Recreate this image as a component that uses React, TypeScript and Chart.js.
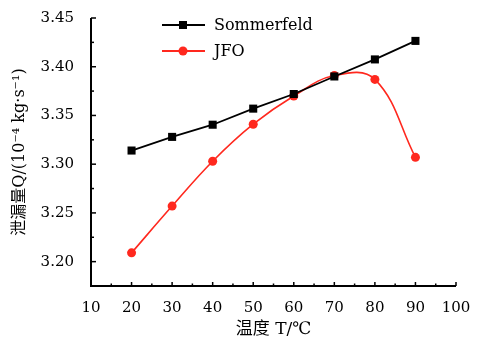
import React, { useEffect, useRef } from "react";
import { Chart, registerables } from "chart.js";

Chart.register(...registerables);

const temperatures = [20, 30, 40, 50, 60, 70, 80, 90];
const sommerfeld = [3.314, 3.328, 3.3405, 3.357, 3.372, 3.39, 3.4075, 3.4265];
const jfo = [3.209, 3.257, 3.303, 3.341, 3.37, 3.391, 3.387, 3.307];
const xTicks = [10, 20, 30, 40, 50, 60, 70, 80, 90, 100];
const yTicks = [3.2, 3.25, 3.3, 3.35, 3.4, 3.45];
const xMinor = [15, 25, 35, 45, 55, 65, 75, 85, 95];
const yMinor = [3.175, 3.225, 3.275, 3.325, 3.375, 3.425];

const SERIF = "'DejaVu Serif', 'Noto Sans CJK SC', serif";

const axisTicksPlugin = {
  id: "innerTicks",
  afterDraw(chart: any) {
    const { ctx, chartArea } = chart;
    const xs = chart.scales.x;
    const ys = chart.scales.y;
    ctx.save();
    ctx.strokeStyle = "#000";
    ctx.lineWidth = 1.5;
    const drawX = (v: number, len: number) => {
      const px = xs.getPixelForValue(v);
      ctx.beginPath();
      ctx.moveTo(px, chartArea.bottom);
      ctx.lineTo(px, chartArea.bottom - len);
      ctx.stroke();
    };
    const drawY = (v: number, len: number) => {
      const py = ys.getPixelForValue(v);
      ctx.beginPath();
      ctx.moveTo(chartArea.left, py);
      ctx.lineTo(chartArea.left + len, py);
      ctx.stroke();
    };
    xTicks.forEach((v) => drawX(v, 4));
    xMinor.forEach((v) => drawX(v, 2.5));
    yTicks.forEach((v) => drawY(v, 5));
    yMinor.forEach((v) => drawY(v, 3));
    ctx.lineWidth = 2;
    ctx.beginPath();
    ctx.moveTo(chartArea.left, chartArea.top);
    ctx.lineTo(chartArea.left, chartArea.bottom);
    ctx.lineTo(chartArea.right, chartArea.bottom);
    ctx.stroke();
    ctx.restore();
  },
};

const legendPlugin = {
  id: "innerLegend",
  afterDraw(chart: any) {
    const { ctx } = chart;
    ctx.save();
    const rows = [25, 51];
    chart.data.datasets.forEach((ds: any, i: number) => {
      const y = rows[i];
      ctx.strokeStyle = ds.borderColor;
      ctx.lineWidth = 2;
      ctx.beginPath();
      ctx.moveTo(162, y);
      ctx.lineTo(205, y);
      ctx.stroke();
      ctx.fillStyle = ds.pointBackgroundColor;
      if (ds.pointStyle === "rect") {
        ctx.fillRect(179, y - 4, 8, 8);
      } else {
        ctx.beginPath();
        ctx.arc(183, y, 4.5, 0, Math.PI * 2);
        ctx.fill();
      }
      ctx.fillStyle = "#000";
      ctx.font = "16px " + SERIF;
      ctx.textBaseline = "middle";
      ctx.textAlign = "left";
      ctx.fillText(ds.label, 214, y + 1);
    });
    ctx.restore();
  },
};

export default function App() {
  const ref = useRef<HTMLCanvasElement>(null);
  useEffect(() => {
    document.body.style.margin = "0";
    const chart = new Chart(ref.current!, {
      type: "line",
      data: {
        datasets: [
          {
            label: "Sommerfeld",
            data: temperatures.map((t, i) => ({ x: t, y: sommerfeld[i] })),
            borderColor: "#000",
            backgroundColor: "#000",
            pointBackgroundColor: "#000",
            pointBorderColor: "#000",
            pointStyle: "rect",
            pointRadius: 5.7,
            pointBorderWidth: 0,
            borderWidth: 1.8,
            tension: 0,
          },
          {
            label: "JFO",
            data: temperatures.map((t, i) => ({ x: t, y: jfo[i] })),
            borderColor: "rgb(255,40,30)",
            backgroundColor: "rgb(255,40,30)",
            pointBackgroundColor: "rgb(255,40,30)",
            pointBorderColor: "rgb(255,40,30)",
            pointStyle: "circle",
            pointRadius: 4.5,
            pointBorderWidth: 0,
            borderWidth: 1.6,
            tension: 0.4,
          },
        ] as any,
      },
      options: {
        animation: false,
        responsive: false,
        layout: { padding: { top: 15, right: 22, left: 0, bottom: 0 } },
        plugins: { legend: { display: false }, tooltip: { enabled: false } },
        scales: {
          x: {
            type: "linear",
            min: 10,
            max: 100,
            afterBuildTicks: (s: any) => {
              s.ticks = xTicks.map((v) => ({ value: v }));
            },
            afterFit: (s: any) => {
              s.height = 55;
            },
            grid: { display: false },
            border: { display: false },
            ticks: {
              color: "#000",
              font: { family: SERIF, size: 15 },
              padding: 5,
              maxRotation: 0,
              autoSkip: false,
              callback: (v: any) => String(v),
            },
            title: {
              display: true,
              text: "温度 T/℃",
              color: "#000",
              font: { family: SERIF, size: 17 },
              padding: { top: 0, bottom: 1 },
            },
          },
          y: {
            type: "linear",
            min: 3.175,
            max: 3.45,
            afterBuildTicks: (s: any) => {
              s.ticks = yTicks.map((v) => ({ value: v }));
            },
            afterFit: (s: any) => {
              s.width = 91;
            },
            grid: { display: false },
            border: { display: false },
            ticks: {
              color: "#000",
              font: { family: SERIF, size: 15 },
              padding: 9,
              autoSkip: false,
              callback: (v: any) => Number(v).toFixed(2),
            },
            title: {
              display: true,
              text: "泄漏量Q/(10⁻⁴ kg·s⁻¹)",
              color: "#000",
              font: { family: SERIF, size: 16 },
              padding: { top: 10, bottom: 0 },
            },
          },
        },
      },
      plugins: [axisTicksPlugin, legendPlugin],
    });
    return () => chart.destroy();
  }, []);
  return <canvas ref={ref} width={478} height={341} />;
}
